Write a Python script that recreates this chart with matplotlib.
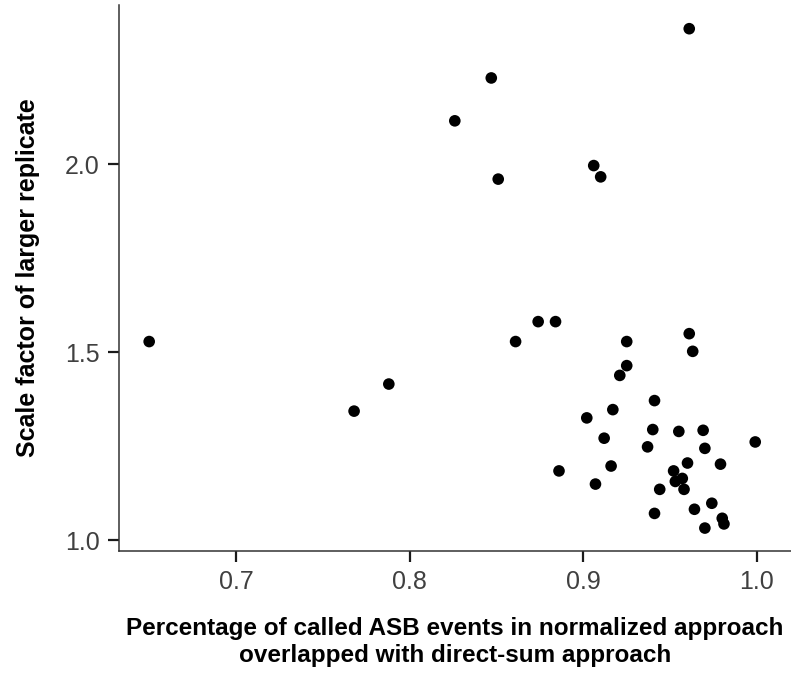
import matplotlib
matplotlib.use("Agg")
import matplotlib.pyplot as plt

# overlap fraction (x) vs scale factor (y)
overlap = [0.650, 0.768, 0.788, 0.826, 0.847, 0.851, 0.861, 0.874, 0.884, 0.886,
           0.906, 0.910, 0.961, 0.925, 0.961, 0.963, 0.925, 0.921, 0.941, 0.917,
           0.902, 0.912, 0.940, 0.955, 0.969, 0.937, 0.970, 0.999, 0.916, 0.907,
           0.960, 0.979, 0.952, 0.957, 0.953, 0.944, 0.958, 0.974, 0.964, 0.941,
           0.980, 0.981, 0.970]
scale = [1.528, 1.343, 1.415, 2.115, 2.229, 1.960, 1.528, 1.581, 1.581, 1.184,
         1.996, 1.966, 2.360, 1.528, 1.549, 1.502, 1.464, 1.438, 1.371, 1.347,
         1.325, 1.271, 1.294, 1.289, 1.292, 1.248, 1.244, 1.261, 1.197, 1.149,
         1.205, 1.202, 1.184, 1.164, 1.156, 1.135, 1.135, 1.098, 1.082, 1.071,
         1.058, 1.043, 1.032]

xticks = [0.7, 0.8, 0.9, 1.0]
yticks = [1.0, 1.5, 2.0]

plt.rcParams['font.family'] = ['Liberation Sans', 'DejaVu Sans']

fig = plt.figure(figsize=(7.91, 6.77), dpi=100)
ax = fig.add_axes([0.1504, 0.1861, 0.8496, 0.8065])

ax.scatter(overlap, scale, s=70, color='black', edgecolors='none', zorder=3)

ax.set_xlim(0.6326, 1.0196)
ax.set_ylim(0.971, 2.423)
ax.set_xticks(xticks)
ax.set_xticklabels([f'{v:.1f}' for v in xticks])
ax.set_yticks(yticks)
ax.set_yticklabels([f'{v:.1f}' for v in yticks])

for side in ['top', 'right']:
    ax.spines[side].set_visible(False)
for side in ['left', 'bottom']:
    ax.spines[side].set_color('#333333')
    ax.spines[side].set_linewidth(1.1)

ax.tick_params(axis='both', direction='out', length=8, width=1.6, color='#1a1a1a',
               labelsize=18, labelcolor='#404040', pad=6)

ax.set_xlabel('Percentage of called ASB events in normalized approach\n'
              'overlapped with direct-sum approach',
              fontsize=17.5, fontweight='bold', labelpad=16, linespacing=1.25)
ax.set_ylabel('Scale factor of larger replicate', fontsize=18, fontweight='bold',
              labelpad=18)

fig.savefig('out.png', dpi=100, facecolor='white')
